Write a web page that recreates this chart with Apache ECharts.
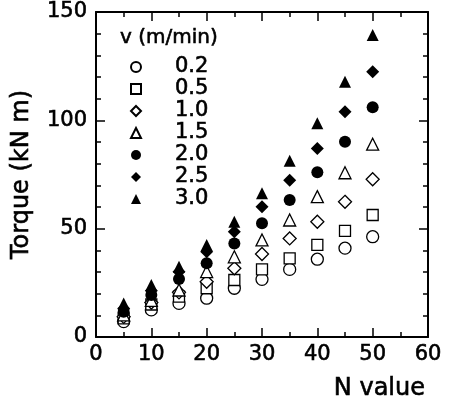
<!DOCTYPE html>
<html>
<head>
<meta charset="utf-8">
<script src="https://cdn.jsdelivr.net/npm/echarts@6/dist/echarts.min.js"></script>
<style>
  html, body { margin: 0; padding: 0; background: #fff; }
  #torque { width: 452px; height: 402px; }
</style>
</head>
<body>
<div id="torque"></div>
<script>
var nValues = [5, 10, 15, 20, 25, 30, 35, 40, 45, 50];
var v02 = [7.1, 12.5, 15.5, 17.9, 22.5, 26.6, 31.2, 35.9, 41.0, 46.3];
var v05 = [8.6, 15.0, 18.6, 22.5, 26.3, 31.2, 36.3, 42.5, 49.0, 56.3];
var v10 = [9.3, 15.9, 20.6, 25.5, 31.7, 38.3, 45.5, 53.2, 62.4, 72.8];
var v15 = [10.2, 16.9, 21.7, 30.2, 37.0, 44.8, 54.0, 64.8, 75.8, 89.0];
var v20 = [11.7, 19.4, 26.8, 34.0, 43.2, 52.5, 63.2, 76.0, 90.1, 106.0];
var v25 = [13.2, 21.4, 30.1, 39.4, 48.6, 60.1, 72.4, 87.0, 104.0, 122.4];
var v30 = [15.5, 24.0, 32.4, 42.5, 53.2, 66.3, 81.4, 98.6, 117.8, 139.4];

var speeds = ['0.2', '0.5', '1.0', '1.5', '2.0', '2.5', '3.0'];
var values = [v02, v05, v10, v15, v20, v25, v30];
var symbols = ['circle', 'rect', 'diamond', 'triangle', 'circle', 'diamond', 'triangle'];
var filled = [false, false, false, false, true, true, true];
var sizes = [12, 11, 13, 12, 12, 13, 12];

var font = 'DejaVu Sans';

function makeSeries() {
    var list = [];
    for (var i = 0; i < speeds.length; i++) {
        var pts = [];
        for (var j = 0; j < nValues.length; j++) {
            pts.push([nValues[j], values[i][j]]);
        }
        list.push({
            name: speeds[i],
            type: 'scatter',
            symbol: symbols[i],
            symbolSize: sizes[i],
            itemStyle: {
                color: filled[i] ? '#000' : '#fff',
                borderColor: '#000',
                borderWidth: filled[i] ? 0 : 1.3,
                opacity: 1
            },
            data: pts
        });
    }
    return list;
}

// text a bit heavier than regular, like the scanned figure
function txt(size, extra) {
    var t = { color: '#000', fontFamily: font, fontSize: size, fontWeight: 'normal', textBorderColor: '#000', textBorderWidth: 0.6 };
    for (var k in extra) t[k] = extra[k];
    return t;
}

// shared look for the four frame axes (ticks point inward)
function axisBase(extra) {
    var a = {
        type: 'value',
        axisLine: { show: true, onZero: false, lineStyle: { color: '#000', width: 2 } },
        axisTick: { show: true, inside: true, length: 9, lineStyle: { color: '#000', width: 1.5 } },
        splitLine: { show: false },
        axisLabel: { show: false }
    };
    for (var k in extra) a[k] = extra[k];
    return a;
}

var xMinor = { show: true, splitNumber: 2, length: 5, lineStyle: { color: '#000', width: 1.5 } };
var yMinor = { show: true, splitNumber: 5, length: 5, lineStyle: { color: '#000', width: 1.5 } };

var chart = echarts.init(document.getElementById('torque'));
chart.setOption({
    backgroundColor: '#fff',
    animation: false,
    title: {
        text: 'v (m/min)',
        left: 120,
        top: 28,
        padding: 0,
        textStyle: txt(20)
    },
    legend: {
        orient: 'vertical',
        left: 130,
        top: 56,
        padding: 0,
        itemGap: 0,
        itemWidth: 10,
        itemHeight: 10,
        textStyle: txt(21, { lineHeight: 22, padding: [0, 0, 0, 29] }),
        data: speeds
    },
    grid: { left: 96, right: 24, top: 12, bottom: 65 },
    xAxis: [
        axisBase({
            min: 0, max: 60, interval: 10,
            minorTick: xMinor,
            axisLabel: txt(21, { show: true, margin: 7 }),
            name: 'N value',
            nameLocation: 'end',
            nameGap: -3,
            nameTextStyle: txt(24, { align: 'right', verticalAlign: 'top', padding: [40, 0, 0, 0] })
        }),
        axisBase({ position: 'top', min: 0, max: 60, interval: 10, minorTick: xMinor })
    ],
    yAxis: [
        axisBase({
            min: 0, max: 150, interval: 50,
            minorTick: yMinor,
            axisLabel: txt(21, { show: true, margin: 9 }),
            name: 'Torque (kN m)',
            nameLocation: 'middle',
            nameGap: 62,
            nameTextStyle: txt(24)
        }),
        axisBase({ position: 'right', min: 0, max: 150, interval: 50, minorTick: yMinor })
    ],
    series: makeSeries()
});
</script>
</body>
</html>
